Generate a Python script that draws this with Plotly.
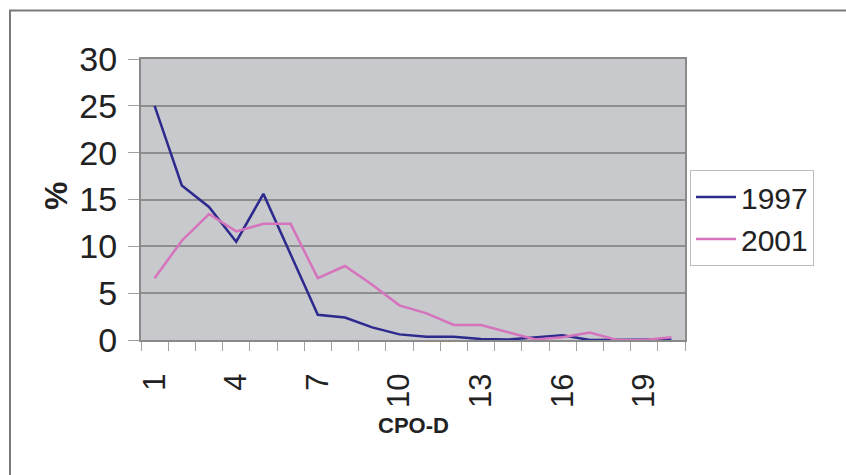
import plotly.graph_objects as go

# CPO-D index values and share of children (%) per survey year
cpo_d = list(range(1, 21))
pct_1997 = [25.0, 16.5, 14.2, 10.5, 15.6, 9.1, 2.7, 2.4, 1.35, 0.6,
            0.35, 0.35, 0.1, 0.05, 0.3, 0.5, 0.0, 0.0, 0.0, 0.05]
pct_2001 = [6.6, 10.6, 13.45, 11.6, 12.4, 12.4, 6.6, 7.9, 5.9, 3.7,
            2.85, 1.6, 1.6, 0.8, 0.05, 0.3, 0.8, 0.0, 0.0, 0.3]
x_tick_vals = [1, 4, 7, 10, 13, 16, 19]
y_tick_vals = [0, 5, 10, 15, 20, 25, 30]

W, H = 846, 475
ML, MR, MT, MB = 141, 161, 59, 135
pw, ph = W - ML - MR, H - MT - MB


def px_x(p):
    return (p - ML) / pw


def px_y(p):
    return (H - MB - p) / ph


fig = go.Figure()
fig.add_trace(go.Scatter(x=cpo_d, y=pct_1997, mode="lines", name="1997",
                         line=dict(color="#2d2a8e", width=2.5)))
fig.add_trace(go.Scatter(x=cpo_d, y=pct_2001, mode="lines", name="2001",
                         line=dict(color="#d673bd", width=2.5)))

font_main = "Liberation Sans, Arial, sans-serif"

fig.update_layout(
    width=W, height=H,
    margin=dict(l=ML, r=MR, t=MT, b=MB, pad=0),
    paper_bgcolor="white",
    plot_bgcolor="#c8c9cc",
    font=dict(family=font_main, color="#222222"),
    showlegend=True,
    legend=dict(
        x=px_x(690), y=px_y(170), xanchor="left", yanchor="top",
        bordercolor="#bdbdbd", borderwidth=1, bgcolor="white",
        font=dict(size=30, family=font_main, color="#222222"),
        itemwidth=40,
    ),
    xaxis=dict(
        range=[0.5, 20.5], tickmode="array", tickvals=x_tick_vals,
        ticktext=[str(v) for v in x_tick_vals], tickangle=-90,
        tickfont=dict(size=31), ticks="", showgrid=False, zeroline=False,
        showline=True, linecolor="#8a8a8a", linewidth=2, mirror=True,
        ticklabelstandoff=19,
        minor=dict(ticks="outside", tick0=0.5, dtick=1, ticklen=9,
                   tickcolor="#a0a0a0", tickwidth=1, showgrid=False),
    ),
    yaxis=dict(
        range=[0, 30], tickmode="array", tickvals=y_tick_vals,
        tickfont=dict(size=34), ticks="outside", ticklen=11,
        tickcolor="#a0a0a0", tickwidth=1, showgrid=True,
        gridcolor="#8e8e8e", gridwidth=1.5, zeroline=False,
        showline=True, linecolor="#8a8a8a", linewidth=2, mirror=True,
        ticklabelstandoff=4,
    ),
    annotations=[
        dict(text="<b>%</b>", x=px_x(56), y=px_y(196), xref="paper", yref="paper",
             xanchor="center", yanchor="middle",
             showarrow=False, textangle=-90, font=dict(size=32, color="#222222")),
        dict(text="<b>CPO-D</b>", x=0.5, y=px_y(425), xref="paper", yref="paper",
             xanchor="center", yanchor="middle",
             showarrow=False, font=dict(size=22, color="#222222")),
    ],
    shapes=[
        dict(type="path", xref="paper", yref="paper",
             path=f"M {px_x(10)},{px_y(H + 20)} L {px_x(10)},{px_y(10.5)} L {px_x(W + 20)},{px_y(10.5)}",
             line=dict(color="#7a7a7a", width=2)),
    ],
)

fig.write_html("out.html")
